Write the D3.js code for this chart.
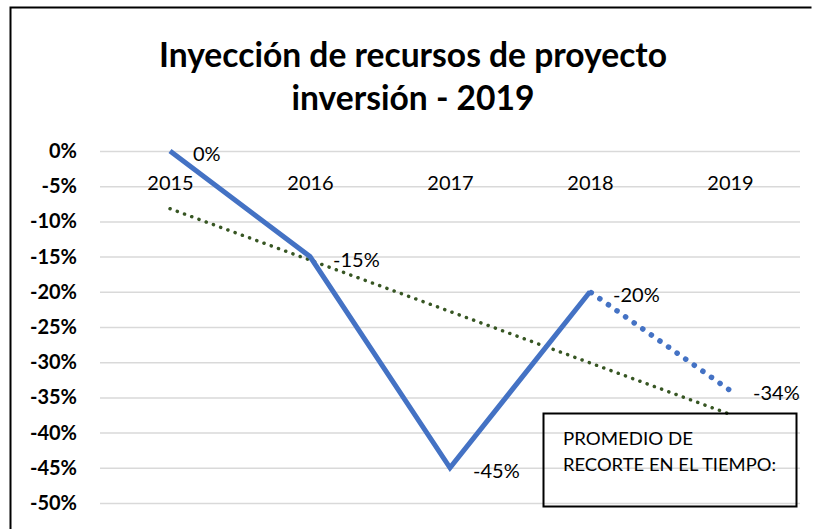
<!DOCTYPE html>
<html>
<head>
<meta charset="utf-8">
<script src="https://cdn.jsdelivr.net/npm/d3@7"></script>
<style>
  body { margin: 0; background: #fff; }
  svg { display: block; font-family: Lato, "Open Sans", sans-serif; }
</style>
</head>
<body>
<div id="chart"></div>
<script>
// data
const years = ["2015", "2016", "2017", "2018", "2019"];
const actualValues = [0, -15, -45, -20];      // solid line 2015-2018
const forecastYears = ["2018", "2019"];
const forecastValues = [-20, -34];            // dotted blue segment
const trendYears = ["2015", "2019"];
const trendValues = [-8.2, -37.4];            // linear trend (green dots)
const yTicks = [0, -5, -10, -15, -20, -25, -30, -35, -40, -45, -50];
const titleLines = ["Inyección de recursos de proyecto", "inversión - 2019"];
const noteLines = ["PROMEDIO  DE", "RECORTE EN EL TIEMPO:"];

const width = 816, height = 529;
const blue = "#4472c4", green = "#375623";

const svg = d3.select("#chart").append("svg")
  .attr("width", width)
  .attr("height", height);

// chart frame (left + top edges visible)
svg.append("path")
  .attr("d", "M10.5,529V7.5H811.5")
  .attr("fill", "none")
  .attr("stroke", "#000")
  .attr("stroke-width", 2);

// title
svg.append("g").selectAll("text")
  .data(titleLines)
  .join("text")
  .attr("x", 413)
  .attr("y", (d, i) => 67 + i * 43)
  .attr("text-anchor", "middle")
  .attr("font-weight", "bold")
  .attr("font-size", 34)
  .attr("textLength", (d, i) => (i === 0 ? 508 : 243))
  .attr("lengthAdjust", "spacingAndGlyphs")
  .text((d) => d);

const x = d3.scalePoint().domain(years).range([170, 730]);
const y = d3.scaleLinear().domain([0, -50]).range([151, 503]);

// y axis + gridlines
const yAxis = svg.append("g")
  .attr("transform", "translate(100,0)")
  .call(d3.axisLeft(y).tickValues(yTicks).tickSize(-700).tickPadding(23).tickFormat((d) => d + "%"));
yAxis.select(".domain").remove();
yAxis.selectAll(".tick line").attr("stroke", "#d9d9d9").attr("stroke-width", 1.5);
yAxis.selectAll(".tick text")
  .attr("font-family", "Lato, sans-serif")
  .attr("font-size", 20)
  .attr("font-weight", "bold")
  .attr("fill", "#000");

// category labels sit just under the 0 line
const xAxis = svg.append("g")
  .attr("transform", `translate(0,${y(0)})`)
  .call(d3.axisBottom(x).tickSize(0).tickPadding(0));
xAxis.select(".domain").remove();
xAxis.selectAll(".tick text")
  .attr("y", 32)
  .attr("dy", "0.35em")
  .attr("font-family", "Lato, sans-serif")
  .attr("font-size", 20)
  .attr("fill", "#000");

const line = d3.line()
  .x((d) => x(d[0]))
  .y((d) => y(d[1]));

// trend line
svg.append("path")
  .datum(d3.zip(trendYears, trendValues))
  .attr("d", line)
  .attr("fill", "none")
  .attr("stroke", green)
  .attr("stroke-width", 3.5)
  .attr("stroke-linecap", "round")
  .attr("stroke-dasharray", "0.1 7.6");

// forecast dots
svg.append("path")
  .datum(d3.zip(forecastYears, forecastValues))
  .attr("d", line)
  .attr("fill", "none")
  .attr("stroke", blue)
  .attr("stroke-width", 5.5)
  .attr("stroke-linecap", "round")
  .attr("stroke-dasharray", "0.1 10.4")
  .attr("stroke-dashoffset", -12);

// actual series
svg.append("path")
  .datum(d3.zip(years.slice(0, actualValues.length), actualValues))
  .attr("d", line)
  .attr("fill", "none")
  .attr("stroke", blue)
  .attr("stroke-width", 5)
  .attr("stroke-linejoin", "miter");

// data labels
const labelData = d3.zip(years.slice(0, actualValues.length), actualValues)
  .concat([[forecastYears[1], forecastValues[1]]]);
svg.append("g").selectAll("text")
  .data(labelData)
  .join("text")
  .attr("x", (d) => x(d[0]) + 23)
  .attr("y", (d) => y(d[1]) + 3)
  .attr("dy", "0.35em")
  .attr("font-size", 20)
  .attr("fill", "#000")
  .text((d) => d[1] + "%");

// note box (transparent, gridlines show through)
svg.append("rect")
  .attr("x", 543.5)
  .attr("y", 413.5)
  .attr("width", 253)
  .attr("height", 93)
  .attr("fill", "none")
  .attr("stroke", "#000")
  .attr("stroke-width", 2);

svg.append("g").selectAll("text")
  .data(noteLines)
  .join("text")
  .attr("x", 563)
  .attr("y", (d, i) => 445 + i * 25.5)
  .attr("font-size", 18)
  .attr("textLength", (d, i) => (i === 0 ? 130 : 213))
  .attr("lengthAdjust", "spacingAndGlyphs")
  .attr("fill", "#000")
  .text((d) => d);
</script>
</body>
</html>
